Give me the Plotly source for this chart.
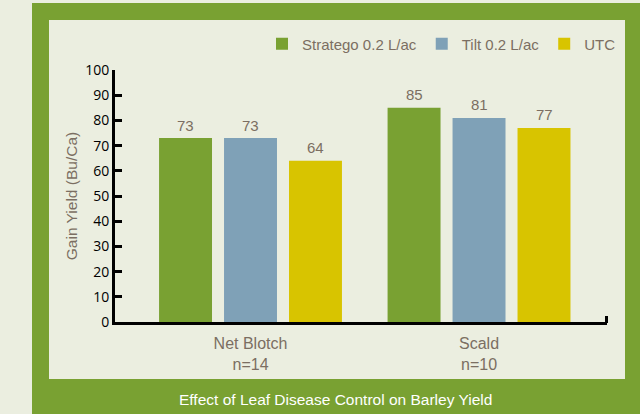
import plotly.graph_objects as go

categories = ["Net Blotch<br>n=14", "Scald<br>n=10"]
series_names = ["Stratego 0.2 L/ac", "Tilt 0.2 L/ac", "UTC"]
stratego = [73, 85]
tilt = [73, 81]
utc = [64, 77]
y_ticks = [0, 10, 20, 30, 40, 50, 60, 70, 80, 90, 100]

colors = ["#79a132", "#7fa1b7", "#d8c400"]
txt = "#7b6e62"
bg = "#ebeee0"
frame = "#79a132"
FONT = "Liberation Sans, Arial"

W, H = 640, 414
L, R, T, B = 115, 607, 70, 322  # plot area in px

def px(x):
    return (x - L) / (R - L)

def py(y):
    return (B - y) / (B - T)

fig = go.Figure()
annotations = []
series = [stratego, tilt, utc]
slot_px = 65
for i, (name, vals, c) in enumerate(zip(series_names, series, colors)):
    fig.add_trace(go.Bar(
        x=categories, y=vals, name=name, marker_color=c,
        marker_line_width=0, hoverinfo="skip",
    ))
    for cat, v in zip(categories, vals):
        annotations.append(dict(
            x=cat, y=v, xref="x", yref="y", text=str(v), showarrow=False,
            xshift=(i - 1) * slot_px, yshift=13, yanchor="middle", xanchor="center",
            font=dict(color=txt, size=15, family=FONT)))

annotations.append(dict(text="Effect of Leaf Disease Control on Barley Yield", xref="paper", yref="paper",
                        x=px(335), y=py(399), showarrow=False, xanchor="center", yanchor="middle",
                        font=dict(color="white", size=15.5, family=FONT)))

shapes = [
    dict(type="rect", xref="paper", yref="paper", x0=px(32), x1=px(645), y0=py(3), y1=py(420),
         fillcolor=frame, line_width=0, layer="below"),
    dict(type="rect", xref="paper", yref="paper", x0=px(49), x1=px(625), y0=py(20), y1=py(379),
         fillcolor=bg, line_width=0, layer="below"),
    dict(type="line", xref="paper", yref="paper", x0=px(606.5), x1=px(606.5), y0=py(323), y1=py(316),
         line=dict(color="black", width=3)),
]

fig.update_layout(
    width=W, height=H,
    margin=dict(l=L, r=W - R, t=T, b=H - B, pad=0),
    paper_bgcolor=bg, plot_bgcolor="rgba(0,0,0,0)",
    barmode="group", bargap=0.147, bargroupgap=0.185,
    shapes=shapes,
    annotations=annotations,
    showlegend=True,
    legend=dict(orientation="h", x=px(621), xanchor="right", y=py(44), yanchor="middle",
                font=dict(color=txt, size=15, family=FONT),
                bgcolor="rgba(0,0,0,0)", traceorder="normal", itemwidth=30),
    xaxis=dict(range=[-0.593, 1.56], showline=True, linecolor="black", linewidth=3,
               showgrid=False, zeroline=False, ticks="", ticklabelstandoff=5,
               tickfont=dict(color=txt, size=16, family=FONT)),
    yaxis=dict(range=[0, 100], tickvals=y_ticks, showline=True, linecolor="black", linewidth=3,
               showgrid=False, zeroline=False, ticks="inside", ticklen=7, tickwidth=3, tickcolor="black",
               tickfont=dict(color="black", size=14, family="Open Sans"),
               title=dict(text="Gain Yield (Bu/Ca)", standoff=4,
                          font=dict(color=txt, size=15.5, family=FONT))),
)

fig.write_html("out.html", config={"displayModeBar": False, "staticPlot": True},
               post_script="document.body.style.margin='0';document.body.style.background='%s';" % bg)
